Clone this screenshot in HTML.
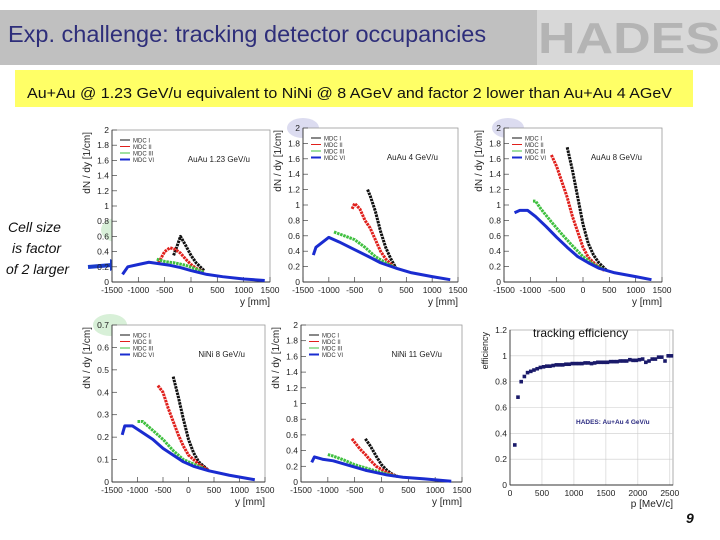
<!DOCTYPE html>
<html><head><meta charset="utf-8"><style>
body{margin:0;background:#fff;}
svg{display:block;font-family:"Liberation Sans",sans-serif;}
</style></head><body>
<svg id="s" width="720" height="540" viewBox="0 0 720 540" xmlns="http://www.w3.org/2000/svg">
<rect x="0" y="10" width="540" height="55" fill="#c0c0c0"/>
<text x="8" y="42" font-size="23.5" fill="#2e2e7a">Exp. challenge: tracking detector  occupancies</text>
<rect x="537" y="10" width="183" height="55" fill="#d8d8d8"/>
<text x="538" y="53" font-size="44" font-weight="bold" fill="#b4b4b4" textLength="182" lengthAdjust="spacingAndGlyphs">HADES</text>
<rect x="15" y="70" width="678" height="37" fill="#ffff66"/>
<text x="27" y="98" font-size="15" fill="#111" textLength="645" lengthAdjust="spacingAndGlyphs">Au+Au @ 1.23 GeV/u equivalent to NiNi @ 8 AGeV and factor 2 lower than Au+Au 4 AGeV</text>
<ellipse cx="117" cy="230" rx="16" ry="12" fill="#d8f0d8"/>
<ellipse cx="110" cy="325" rx="17" ry="11" fill="#d8f0d8"/>
<ellipse cx="303" cy="128" rx="16" ry="10" fill="#dcdcf0"/>
<ellipse cx="508" cy="128" rx="16" ry="10" fill="#dcdcf0"/>
<g font-size="14" font-style="italic" fill="#111">
<text x="8" y="232">Cell size</text><text x="12" y="253">is factor</text><text x="6" y="274">of 2 larger</text></g>
<path d="M88 267 L112 265" stroke="#1a3ccc" stroke-width="4"/>
<path d="M110 259 L122 265 L110 271Z" fill="#1a3ccc"/>
<text x="686" y="523" font-size="14" font-weight="bold" font-style="italic" fill="#111">9</text>
<g id="plots"></g>
</svg>
<script>
// Panel 1: AuAu 1.23 GeV/u
const p1Black=[[-330,0.35],[-250,0.5],[-200,0.6],[-100,0.48],[0,0.35],[100,0.25],[250,0.15]];
const p1Red=[[-620,0.25],[-500,0.4],[-400,0.45],[-300,0.43],[-200,0.38],[-100,0.3],[0,0.23],[100,0.18],[250,0.13]];
const p1Green=[[-650,0.3],[-500,0.27],[-300,0.25],[-100,0.22],[100,0.17],[250,0.13]];
const p1Blue=[[-1300,0.1],[-1200,0.2],[-1000,0.23],[-800,0.26],[-600,0.24],[-400,0.22],[-200,0.19],[0,0.15],[300,0.1],[600,0.07],[1000,0.04],[1400,0.02]];
// Panel 2: AuAu 4 GeV/u
const p2Black=[[-250,1.2],[-200,1.12],[-100,0.92],[0,0.66],[100,0.45],[200,0.3],[300,0.18]];
const p2Red=[[-550,0.95],[-500,1.02],[-400,0.95],[-300,0.8],[-200,0.7],[-100,0.55],[0,0.4],[100,0.3],[250,0.2]];
const p2Green=[[-900,0.65],[-700,0.6],[-500,0.55],[-300,0.45],[-100,0.33],[100,0.25],[300,0.18]];
const p2Blue=[[-1300,0.35],[-1250,0.45],[-1000,0.58],[-800,0.52],[-500,0.42],[-200,0.32],[0,0.25],[300,0.18],[600,0.12],[1000,0.07],[1350,0.03]];
// Panel 3: AuAu 8 GeV/u
const p3Black=[[-300,1.75],[-200,1.45],[-100,1.1],[0,0.75],[100,0.5],[200,0.35],[300,0.25],[450,0.15]];
const p3Red=[[-600,1.65],[-500,1.5],[-400,1.3],[-300,1.1],[-200,0.85],[-100,0.65],[0,0.45],[100,0.32],[250,0.22],[400,0.15]];
const p3Green=[[-950,1.05],[-900,1.05],[-800,0.95],[-600,0.78],[-400,0.62],[-200,0.47],[0,0.33],[200,0.23],[400,0.16]];
const p3Blue=[[-1300,0.9],[-1200,0.93],[-1050,0.93],[-900,0.85],[-700,0.72],[-500,0.58],[-300,0.45],[-100,0.33],[100,0.25],[300,0.18],[600,0.12],[1000,0.07],[1300,0.03]];
// Panel 4: NiNi 8 GeV/u
const p4Black=[[-300,0.47],[-200,0.38],[-100,0.28],[0,0.19],[100,0.13],[200,0.09],[400,0.05]];
const p4Red=[[-600,0.43],[-500,0.4],[-400,0.33],[-300,0.27],[-200,0.21],[-100,0.16],[0,0.12],[200,0.08],[400,0.05]];
const p4Green=[[-1000,0.27],[-900,0.27],[-700,0.23],[-500,0.19],[-300,0.14],[-100,0.1],[100,0.08],[300,0.06]];
const p4Blue=[[-1300,0.21],[-1250,0.25],[-1100,0.25],[-900,0.22],[-700,0.19],[-500,0.15],[-300,0.12],[-100,0.09],[100,0.07],[400,0.05],[800,0.03],[1300,0.01]];
// Panel 5: NiNi 11 GeV/u
const p5Black=[[-300,0.55],[-200,0.45],[-100,0.33],[0,0.22],[100,0.15],[200,0.1],[300,0.07]];
const p5Red=[[-550,0.55],[-400,0.42],[-300,0.35],[-200,0.27],[-100,0.2],[0,0.16],[100,0.12],[300,0.07]];
const p5Green=[[-1000,0.35],[-900,0.33],[-700,0.28],[-500,0.22],[-300,0.18],[-100,0.14],[100,0.1],[300,0.07]];
const p5Blue=[[-1300,0.25],[-1250,0.32],[-1100,0.29],[-900,0.27],[-700,0.23],[-500,0.19],[-300,0.15],[-100,0.12],[100,0.09],[400,0.06],[800,0.04],[1300,0.01]];
// Panel 6: tracking efficiency
const effP=[75,125,175,225,275,325,375,425,475,525,575,625,675,725,775,825,875,925,975,1025,1075,1125,1175,1225,1275,1325,1375,1425,1475,1525,1575,1625,1675,1725,1775,1825,1875,1925,1975,2025,2075,2125,2175,2225,2275,2325,2375,2425,2475,2525];
const effV=[0.31,0.68,0.8,0.84,0.87,0.88,0.89,0.9,0.91,0.915,0.92,0.92,0.925,0.93,0.93,0.93,0.935,0.935,0.94,0.94,0.94,0.94,0.945,0.945,0.94,0.945,0.95,0.95,0.95,0.95,0.955,0.955,0.955,0.96,0.96,0.96,0.97,0.965,0.965,0.97,0.975,0.95,0.96,0.975,0.975,0.99,0.99,0.96,1.0,1.0];
const yTicks2=[0,0.2,0.4,0.6,0.8,1,1.2,1.4,1.6,1.8,2];
const yTicks07=[0,0.1,0.2,0.3,0.4,0.5,0.6,0.7];
const yTicksEff=[0,0.2,0.4,0.6,0.8,1,1.2];
const xTicksY=[-1500,-1000,-500,0,500,1000,1500];
const xTicksP=[0,500,1000,1500,2000,2500];
const legendNames=["MDC I","MDC II","MDC III","MDC VI"];
const colors=["#111","#e0201c","#40c040","#1a2cd0"];

const NS="http://www.w3.org/2000/svg";
const root=document.getElementById('plots');
function mk(tag,attrs,parent){const e=document.createElementNS(NS,tag);for(const k in attrs)e.setAttribute(k,attrs[k]);(parent||root).appendChild(e);return e;}
function fmt(v){return v===0?"0":String(v);}

function panel(name,L,R,T,B,xmin,xmax,ymax,yt,xt,xlab,ylab,title,series){
  const g=mk('g',{});
  
  
  const sx=v=>L+(v-xmin)/(xmax-xmin)*(R-L);
  const sy=v=>B-v/ymax*(B-T);
  const fr=mk('rect',{x:L,y:T,width:R-L,height:B-T,fill:'#fff',stroke:'#999','stroke-width':0.8},g);
  
  
  yt.forEach(v=>{
    mk('line',{x1:L,x2:L+5,y1:sy(v),y2:sy(v),stroke:'#444','stroke-width':0.7},g);
    const t=mk('text',{x:L-3,y:sy(v)+3,'font-size':8.5,'text-anchor':'end',fill:'#222'},g);
    t.textContent=fmt(v);
    
    
  });
  xt.forEach(v=>{
    mk('line',{x1:sx(v),x2:sx(v),y1:B,y2:B-5,stroke:'#444','stroke-width':0.7},g);
    const t=mk('text',{x:sx(v),y:B+11,'font-size':8.5,'text-anchor':'middle',fill:'#222'},g);
    t.textContent=String(v);
    
    
  });
  mk('line',{x1:L,x2:L,y1:T,y2:B,stroke:'#333','stroke-width':0.9},g);
  mk('line',{x1:L,x2:R,y1:B,y2:B,stroke:'#333','stroke-width':0.9},g);
  const xl=mk('text',{x:R,y:B+23,'font-size':10,'text-anchor':'end',fill:'#222'},g);
  xl.textContent=xlab;
  
  
  const yl=mk('text',{x:0,y:0,'font-size':10,'text-anchor':'end',fill:'#222',transform:`translate(${L-22},${T+2}) rotate(-90)`},g);
  yl.textContent=ylab;
  
  
  if(title){
    const tt=mk('text',{x:R-20,y:T+32,'font-size':8,'text-anchor':'end',fill:'#222'},g);
    tt.textContent=title;
    
    
  }
  series.forEach((s,i)=>{
    const pl=mk('polyline',{points:s.map(p=>sx(p[0])+','+sy(p[1])).join(' '),fill:'none',stroke:colors[i],'stroke-width':3,'stroke-linejoin':'round','stroke-dasharray':i===3?'none':'2.5 0.8'},g);
    
    
    const le=mk('g',{},g);
    
    
    const ly=T+10+i*6.5;
    mk('line',{x1:L+8,x2:L+18,y1:ly,y2:ly,stroke:colors[i],'stroke-width':i===3?2:1},le);
    const lt=mk('text',{x:L+21,y:ly+2.3,'font-size':6,fill:'#333'},le);
    lt.textContent=legendNames[i];
  });
}
panel('plot-auau-1-23',112,270,130,282,-1500,1500,2,yTicks2,xTicksY,'y [mm]','dN / dy [1/cm]','AuAu 1.23 GeV/u',[p1Black,p1Red,p1Green,p1Blue]);
panel('plot-auau-4',303,458,128,282,-1500,1500,2,yTicks2,xTicksY,'y [mm]','dN / dy [1/cm]','AuAu 4 GeV/u',[p2Black,p2Red,p2Green,p2Blue]);
panel('plot-auau-8',504,662,128,282,-1500,1500,2,yTicks2,xTicksY,'y [mm]','dN / dy [1/cm]','AuAu 8 GeV/u',[p3Black,p3Red,p3Green,p3Blue]);
panel('plot-nini-8',112,265,325,482,-1500,1500,0.7,yTicks07,xTicksY,'y [mm]','dN / dy [1/cm]','NiNi 8 GeV/u',[p4Black,p4Red,p4Green,p4Blue]);
panel('plot-nini-11',301,462,325,482,-1500,1500,2,yTicks2,xTicksY,'y [mm]','dN / dy [1/cm]','NiNi 11 GeV/u',[p5Black,p5Red,p5Green,p5Blue]);

(function(){
  const L=510,R=673,T=330,B=485,xmax=2550,ymax=1.2;
  const g=mk('g',{});
  
  
  const sx=v=>L+v/xmax*(R-L), sy=v=>B-v/ymax*(B-T);
  mk('rect',{x:L,y:T,width:R-L,height:B-T,fill:'#fff',stroke:'#999','stroke-width':0.8},g);
  yTicksEff.forEach(v=>{
    mk('line',{x1:L,x2:R,y1:sy(v),y2:sy(v),stroke:'#ccc','stroke-width':0.6},g);
    const t=mk('text',{x:L-3,y:sy(v)+3,'font-size':8.5,'text-anchor':'end',fill:'#222'},g);
    t.textContent=fmt(v);
    
    
  });
  xTicksP.forEach(v=>{
    mk('line',{x1:sx(v),x2:sx(v),y1:T,y2:B,stroke:'#ccc','stroke-width':0.6},g);
    const t=mk('text',{x:sx(v),y:B+11,'font-size':8.5,'text-anchor':'middle',fill:'#222'},g);
    t.textContent=String(v);
    
    
  });
  mk('line',{x1:L,x2:L,y1:T,y2:B,stroke:'#333','stroke-width':0.9},g);
  mk('line',{x1:L,x2:R,y1:B,y2:B,stroke:'#333','stroke-width':0.9},g);
  effP.forEach((p,i)=>{
    const r=mk('rect',{x:sx(p)-1.8,y:sy(effV[i])-1.8,width:3.6,height:3.6,fill:'#1a1a6a'},g);
    
    
  });
  const xl=mk('text',{x:R,y:B+22,'font-size':10,'text-anchor':'end',fill:'#222'},g);
  xl.textContent='p [MeV/c]';
  
  
  const yl=mk('text',{x:0,y:0,'font-size':9,'text-anchor':'end',fill:'#222',transform:`translate(${L-22},${T+2}) rotate(-90)`},g);
  yl.textContent='efficiency';
  
  
  const tt=mk('text',{x:533,y:337,'font-size':12,fill:'#111'},g);
  tt.textContent='tracking efficiency';
  
  
  const lb=mk('text',{x:576,y:424,'font-size':6.5,'font-weight':'bold',fill:'#2a2a80'},g);
  lb.textContent='HADES: Au+Au 4 GeV/u';
  
  
})();
</script>
</body></html>
